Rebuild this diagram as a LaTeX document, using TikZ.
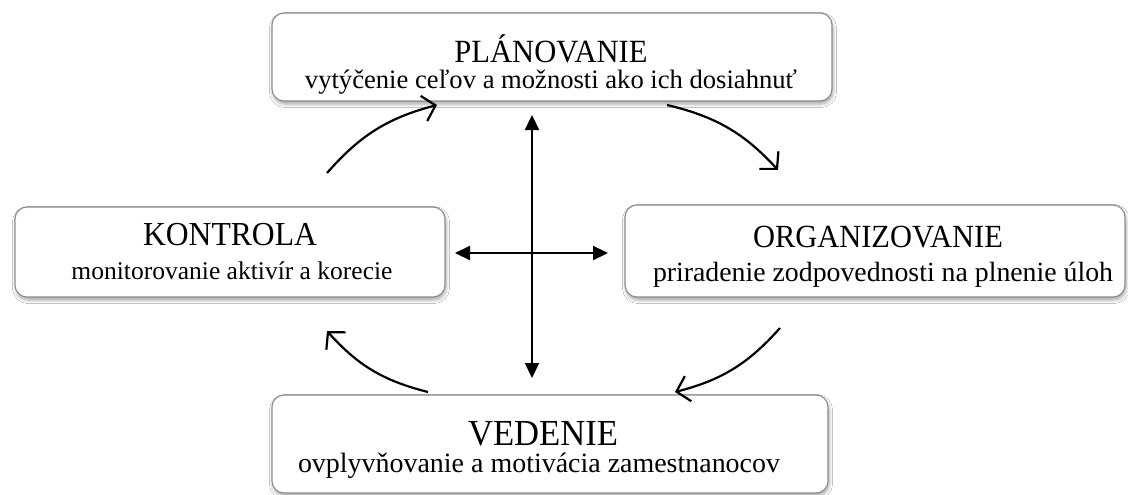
\documentclass[tikz,border=0pt]{standalone}
\usepackage{fontspec}
\setmainfont{Liberation Serif}
\usetikzlibrary{arrows.meta,shadows.blur}
\newcommand\fith[2]{\scalebox{1}[1.06]{\resizebox{#1}{!}{#2}}}
\newcommand\fitw[2]{\resizebox{#1}{!}{#2}}
\tikzset{
 box/.style={draw=black!45, line width=1.1pt, rounded corners=12pt, fill=white, inner sep=0pt,
   blur shadow={shadow xshift=1pt, shadow yshift=-3pt, shadow blur radius=3.5pt, shadow opacity=35}},
 head/.style={anchor=base, inner sep=0pt, font=\fontsize{30}{30}\selectfont},
 sub/.style={anchor=base, inner sep=0pt, font=\fontsize{26}{26}\selectfont},
 cyc/.style={line width=2.2pt, -{Straight Barb[length=12pt,width=26pt,line width=2.2pt]}, bend left=17},
 cross/.style={line width=2.2pt, {Triangle[length=15pt,width=14pt]}-{Triangle[length=15pt,width=14pt]}}
}
\begin{document}
\begin{tikzpicture}[x=1pt,y=-1pt]
\useasboundingbox[fill=white] (0,0) rectangle (1128,495);
% boxes
\node[box, minimum width=560pt, minimum height=88pt] (plan) at (552,57) {};
\node[box, minimum width=430pt, minimum height=90pt] (kont) at (230,252) {};
\node[box, minimum width=500pt, minimum height=92pt] (org) at (875,251) {};
\node[box, minimum width=556pt, minimum height=98pt] (ved) at (550,444) {};
% texts
\node[head] (planH) at (551,63) {\fith{193pt}{PLÁNOVANIE}};
\node[sub] (planS) at (551,89) {\fitw{492pt}{vytýčenie ceľov a možnosti ako ich dosiahnuť}};
\node[head] (kontH) at (230,245) {\fith{174pt}{KONTROLA}};
\node[sub] (kontS) at (232,279) {\fitw{321pt}{monitorovanie aktivír a korecie}};
\node[head] (orgH) at (878,247) {\fith{250pt}{ORGANIZOVANIE}};
\node[sub] (orgS) at (883,281) {\fitw{460pt}{priradenie zodpovednosti na plnenie úloh}};
\node[head] (vedH) at (543,445) {\fith{150pt}{VEDENIE}};
\node[sub] (vedS) at (539,472) {\fitw{482pt}{ovplyvňovanie a motivácia zamestnanocov}};
% cross
\coordinate (cT) at (532,115);
\coordinate (cB) at (532,378);
\coordinate (cL) at (455,253);
\coordinate (cR) at (608,253);
\draw[cross] (cB) -- (cT);
\draw[cross] (cL) -- (cR);
% cycle arrows
\coordinate (a1s) at (327,173); \coordinate (a1e) at (437,105);
\coordinate (a2s) at (667,105); \coordinate (a2e) at (778,170);
\coordinate (a3s) at (780,328); \coordinate (a3e) at (675,392);
\coordinate (a4s) at (428,392); \coordinate (a4e) at (327,331);
\draw[cyc] (a1s) to (a1e);
\draw[cyc] (a2s) to (a2e);
\draw[cyc] (a3s) to (a3e);
\draw[cyc] (a4s) to (a4e);
\end{tikzpicture}
\end{document}
